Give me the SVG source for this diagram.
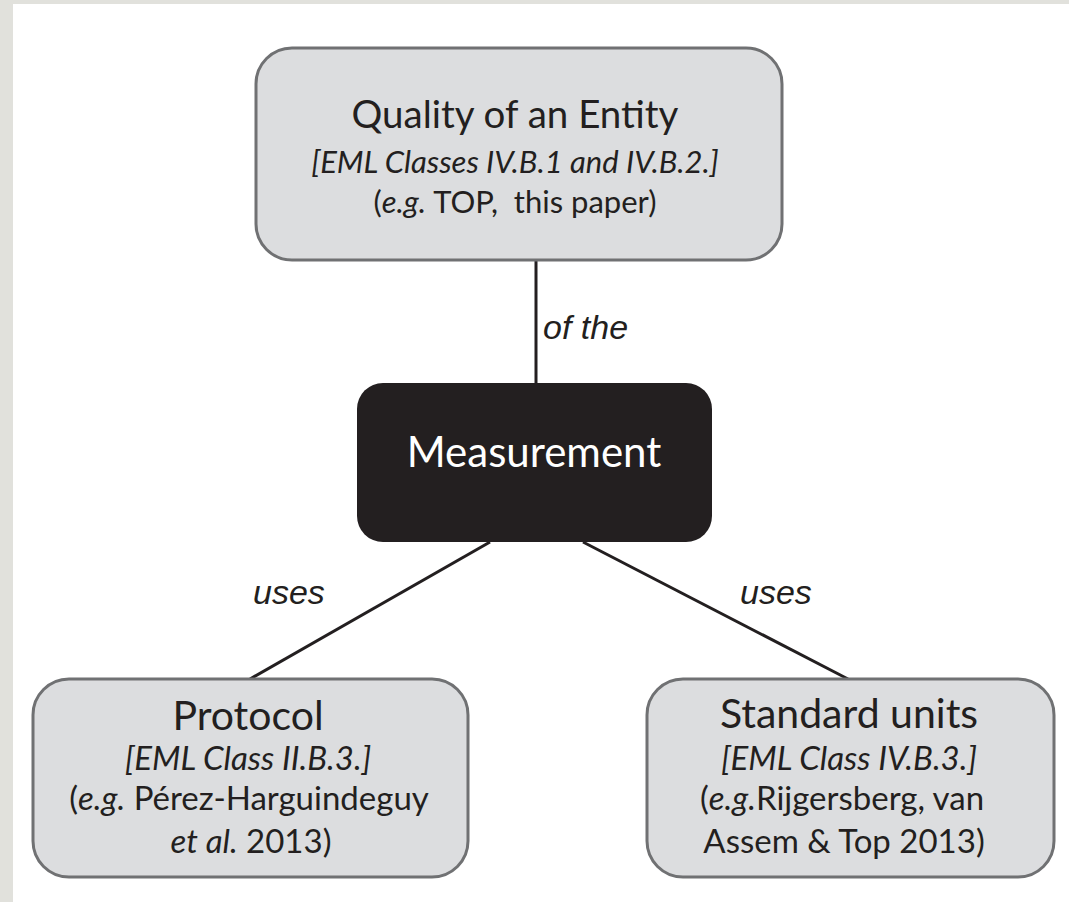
<svg xmlns="http://www.w3.org/2000/svg" width="1069" height="902" viewBox="0 0 1069 902">
<style>
.box{fill:#dcdddf;stroke:#707173;stroke-width:3}
.t{font-family:Lato,"Open Sans",sans-serif;fill:#231f20;text-anchor:middle}
.h{font-size:38.5px}
.hb{font-size:41px}
.s{font-size:31px}
.sb{font-size:33px}
.i{font-style:italic}
.lbl{font-family:"Liberation Sans",Arial,sans-serif;font-style:italic;font-size:34px;fill:#231f20}
.c{stroke:#231f20;stroke-width:3;fill:none}
</style>
<rect x="0" y="0" width="1069" height="902" fill="#ffffff"/>
<rect x="0" y="0" width="1069" height="4" fill="#e1e1dc"/>
<rect x="0" y="0" width="13" height="902" fill="#e1e1dc"/>
<g id="connectors">
<line class="c" x1="536" y1="260" x2="536" y2="384"/>
<line class="c" x1="490" y1="542" x2="250" y2="679"/>
<line class="c" x1="583" y1="542" x2="848" y2="679"/>
<text class="lbl" x="543" y="339">of the</text>
<text class="lbl" x="253" y="604">uses</text>
<text class="lbl" x="740" y="604">uses</text>
</g>
<g id="quality">
<rect class="box" x="256" y="48" width="526" height="212" rx="36"/>
<text class="t h" x="515" y="128">Quality of an Entity</text>
<text class="t s i" x="515" y="173">[EML Classes IV.B.1 and IV.B.2.]</text>
<text class="t s" x="515" y="213" style="white-space:pre">(<tspan class="i">e.g.</tspan> TOP,  this paper)</text>
</g>
<g id="measurement">
<rect x="357" y="383" width="355" height="159" rx="26" fill="#231f20"/>
<text class="t" x="534" y="467" style="font-size:42px;fill:#ffffff">Measurement</text>
</g>
<g id="protocol">
<rect class="box" x="33" y="679" width="435" height="198" rx="36"/>
<text class="t hb" x="248" y="730">Protocol</text>
<text class="t sb i" x="248" y="770">[EML Class II.B.3.]</text>
<text class="t sb" x="249" y="810">(<tspan class="i">e.g.</tspan> Pérez-Harguindeguy</text>
<text class="t sb" x="251" y="853"><tspan class="i">et al.</tspan> 2013)</text>
</g>
<g id="units">
<rect class="box" x="647" y="679" width="407" height="198" rx="36"/>
<text class="t hb" x="849" y="728">Standard units</text>
<text class="t sb i" x="849" y="770">[EML Class IV.B.3.]</text>
<text class="t sb" x="842" y="810">(<tspan class="i">e.g.</tspan>Rijgersberg, van</text>
<text class="t sb" x="844" y="853">Assem &amp; Top 2013)</text>
</g>
</svg>
